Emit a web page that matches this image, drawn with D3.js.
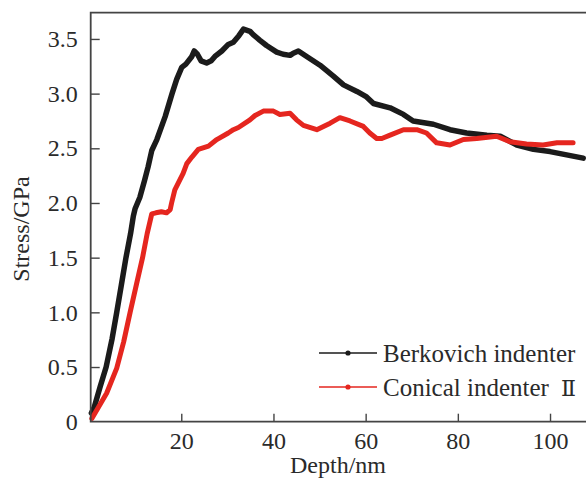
<!DOCTYPE html>
<html>
<head>
<meta charset="utf-8">
<script src="https://cdn.jsdelivr.net/npm/d3@7/dist/d3.min.js"></script>
<style>
  html, body { margin: 0; padding: 0; background: #fff; overflow: hidden; }
  svg { display: block; }
  text { font-family: "Liberation Serif", "Times New Roman", serif; fill: #2a2a2a; }
</style>
</head>
<body>
<svg id="chart" width="586" height="479"></svg>
<script>
// Berkovich indenter: depth (nm) and stress (GPa)
const berkDepth = [0.5, 1.1, 2.4, 3.7, 5.0, 6.0, 7.0, 8.0, 9.0, 9.6, 10.0, 11.0, 12.0, 12.8, 13.6, 14.7,
  16.5, 18.0, 19.0, 20.1, 21.0, 22.3, 22.8, 23.5, 24.3, 25.5, 26.5, 27.3, 28.8, 30.2, 31.3, 32.5, 33.5,
  34.9, 35.6, 37.0, 38.5, 40.7, 42.1, 43.6, 44.3, 45.4, 47.2, 50.1, 53.0, 55.2, 58.1, 60.2, 61.7, 65.3,
  68.2, 70.3, 74.7, 78.3, 81.9, 86.3, 89.2, 92.8, 96.4, 100.0, 103.6, 107.2];
const berkStress = [0.08, 0.13, 0.32, 0.50, 0.76, 1.00, 1.25, 1.50, 1.72, 1.88, 1.95, 2.05, 2.20, 2.33, 2.48, 2.58,
  2.79, 3.00, 3.13, 3.24, 3.27, 3.34, 3.39, 3.36, 3.30, 3.28, 3.30, 3.34, 3.39, 3.45, 3.47, 3.53, 3.59,
  3.57, 3.54, 3.49, 3.44, 3.38, 3.36, 3.35, 3.37, 3.39, 3.34, 3.26, 3.16, 3.08, 3.02, 2.97, 2.91, 2.87,
  2.81, 2.75, 2.72, 2.67, 2.64, 2.62, 2.61, 2.53, 2.49, 2.47, 2.44, 2.41];

// Conical indenter II: depth (nm) and stress (GPa)
const coneDepth = [0.6, 2.0, 3.8, 6.0, 7.5, 8.9, 10.3, 11.6, 12.6, 13.6, 14.5, 15.7, 16.8, 17.6, 17.9, 18.6,
  20.4, 21.2, 22.3, 23.7, 25.9, 27.7, 30.2, 31.3, 32.4, 34.9, 36.0, 37.8, 40.0, 41.4, 43.6, 45.0, 46.5,
  49.4, 52.3, 54.4, 56.6, 59.5, 60.9, 62.4, 63.5, 65.3, 68.2, 71.1, 73.2, 75.4, 78.3, 81.2, 84.1, 88.4,
  91.3, 94.9, 98.5, 101.5, 105.0];
const coneStress = [0.03, 0.13, 0.26, 0.49, 0.73, 1.00, 1.26, 1.50, 1.72, 1.90, 1.91, 1.92, 1.91, 1.94, 2.00, 2.12,
  2.27, 2.36, 2.42, 2.49, 2.52, 2.58, 2.64, 2.67, 2.69, 2.76, 2.80, 2.84, 2.84, 2.81, 2.82, 2.76, 2.71,
  2.67, 2.73, 2.78, 2.75, 2.70, 2.64, 2.59, 2.59, 2.62, 2.67, 2.67, 2.64, 2.55, 2.53, 2.58, 2.59, 2.61,
  2.56, 2.54, 2.53, 2.55, 2.55];

const xTicks = [20, 40, 60, 80, 100];
const yTicks = [0, 0.5, 1.0, 1.5, 2.0, 2.5, 3.0, 3.5];
const seriesNames = ["Berkovich indenter", "Conical indenter"];
const seriesSuffix = ["", "\u2161"];
const seriesColors = ["#1b1b1b", "#e5261f"];

const svg = d3.select("#chart");

const x = d3.scaleLinear().domain([0.35, 108]).range([90.7, 586.9]);
const y = d3.scaleLinear().domain([0, 3.74]).range([421.7, 12.7]);

const series = [
  { name: seriesNames[0], suffix: seriesSuffix[0], color: seriesColors[0], width: 5.5,
    pts: berkDepth.map((d, i) => [d, berkStress[i]]) },
  { name: seriesNames[1], suffix: seriesSuffix[1], color: seriesColors[1], width: 5,
    pts: coneDepth.map((d, i) => [d, coneStress[i]]) }
];

// curves (red drawn last so it sits on top where they cross)
const line = d3.line().x(d => x(d[0])).y(d => y(d[1]));
series.forEach(s => {
  svg.append("path")
    .attr("d", line(s.pts))
    .attr("fill", "none")
    .attr("stroke", s.color)
    .attr("stroke-width", s.width)
    .attr("stroke-linejoin", "round")
    .attr("stroke-linecap", "round");
});

const serif = '"Liberation Serif", "Times New Roman", serif';

// axes with inward ticks
const yAxis = d3.axisLeft(y).tickValues(yTicks).tickSize(-9).tickPadding(13)
  .tickFormat(d => d === 0 ? "0" : d3.format(".1f")(d));
const gy = svg.append("g").attr("transform", `translate(${x.range()[0]},0)`).call(yAxis);
gy.attr("font-family", null).attr("font-size", null);
gy.select(".domain").remove();
gy.selectAll(".tick line").attr("stroke", "#444").attr("stroke-width", 1.4);
gy.selectAll(".tick").filter(d => d === 0).select("line").remove();
gy.selectAll(".tick text").style("font-size", "24px").style("fill", "#2a2a2a")
  .style("font-family", serif);

const xAxis = d3.axisBottom(x).tickValues(xTicks).tickSize(-8).tickPadding(10);
const gx = svg.append("g").attr("transform", `translate(0,${y.range()[0]})`).call(xAxis);
gx.attr("font-family", null).attr("font-size", null);
gx.select(".domain").remove();
gx.selectAll(".tick line").attr("stroke", "#444").attr("stroke-width", 1.4);
gx.selectAll(".tick text").style("font-size", "24px").style("fill", "#2a2a2a")
  .style("font-family", serif);

// frame: left, bottom, top
const [x0, x1] = x.range();
const [yb, yt] = y.range();
svg.append("path")
  .attr("d", `M${x1},${yt}H${x0}V${yb}H${x1}`)
  .attr("fill", "none")
  .attr("stroke", "#444")
  .attr("stroke-width", 1.8);

// axis titles
svg.append("text")
  .attr("x", 338).attr("y", 473)
  .attr("text-anchor", "middle")
  .attr("font-size", 24)
  .text("Depth/nm");

svg.append("text")
  .attr("transform", "translate(29,229) rotate(-90)")
  .attr("text-anchor", "middle")
  .attr("font-size", 24)
  .text("Stress/GPa");

// legend
const leg = svg.append("g");
series.forEach((s, i) => {
  const ly = 353 + i * 34;
  leg.append("line")
    .attr("x1", 319).attr("x2", 377).attr("y1", ly).attr("y2", ly)
    .attr("stroke", s.color).attr("stroke-width", 1.6);
  leg.append("circle")
    .attr("cx", 348).attr("cy", ly).attr("r", 2.6)
    .attr("fill", s.color);
  const t = leg.append("text")
    .attr("x", 383).attr("y", ly + 8.5)
    .attr("font-size", 25)
    .text(s.name);
  if (s.suffix) {
    t.append("tspan")
      .attr("dx", 12)
      .style("font-family", '"DejaVu Serif", serif')
      .attr("font-size", 22)
      .text(s.suffix);
  }
});
</script>
</body>
</html>
